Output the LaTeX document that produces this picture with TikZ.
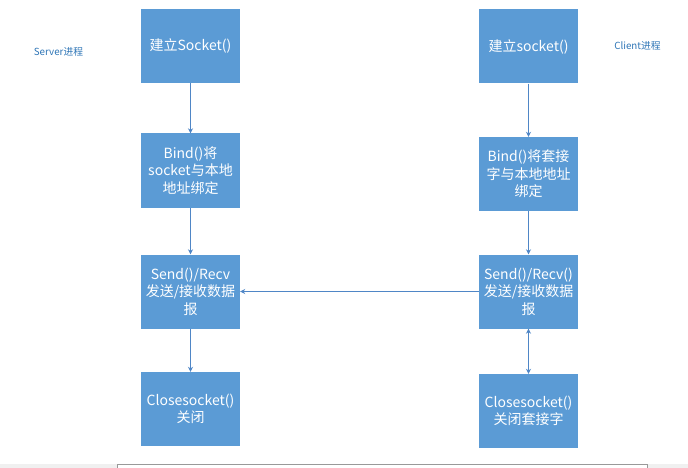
\documentclass[tikz,border=0pt]{standalone}
\usepackage{fontspec}
\setmainfont{Noto Sans CJK SC}
\usetikzlibrary{arrows.meta}
\definecolor{boxblue}{HTML}{5B9BD5}
\definecolor{lineblue}{HTML}{4F86C6}
\definecolor{labelblue}{HTML}{2E75B6}
\begin{document}
\begin{tikzpicture}[x=1pt,y=-1pt,
  box/.style={fill=boxblue, minimum width=99pt, minimum height=74pt, inner sep=0pt,
    text=white, font=\fontsize{14}{17.5}\selectfont, align=center},
  conn/.style={draw=lineblue, line width=0.8pt, -{Stealth[length=5pt,width=5pt]}},
  lbl/.style={text=labelblue, font=\fontsize{9.8}{12}\selectfont}]
\useasboundingbox (0,0) rectangle (688,468);
\fill[black!6] (0,464) rectangle (688,468);
\draw[black!40, fill=white] (117,464) rectangle (647,470);

\node[lbl] (sl) at (58.5,52) {Server进程};
\node[lbl] (cl) at (637.5,46) {Client进程};

\node[box] (s1) at (190.5,46) {建立Socket()};
\node[box] (s2) at (190.5,170.5) {Bind()将\\socket与本地\\地址绑定};
\node[box] (s3) at (190.5,291.5) {Send()/Recv\\发送/接收数据\\报};
\node[box] (s4) at (190.5,409) {Closesocket()\\关闭};

\node[box] (c1) at (528.5,46.5) {建立socket()};
\node[box] (c2) at (528.5,174) {Bind()将套接\\字与本地地址\\绑定};
\node[box] (c3) at (528.5,291.5) {Send()/Recv()\\发送/接收数据\\报};
\node[box] (c4) at (528.5,411) {Closesocket()\\关闭套接字};

\draw[conn] (s1) -- (s2);
\draw[conn] (s2) -- (s3);
\draw[conn] (s3) -- (s4);
\draw[conn] (c1) -- (c2);
\draw[conn] (c2) -- (c3);
\draw[conn, {Stealth[length=5pt,width=5pt]}-{Stealth[length=5pt,width=5pt]}] (c3) -- (c4);
\draw[conn] (c3) -- (s3);
\end{tikzpicture}
\end{document}
